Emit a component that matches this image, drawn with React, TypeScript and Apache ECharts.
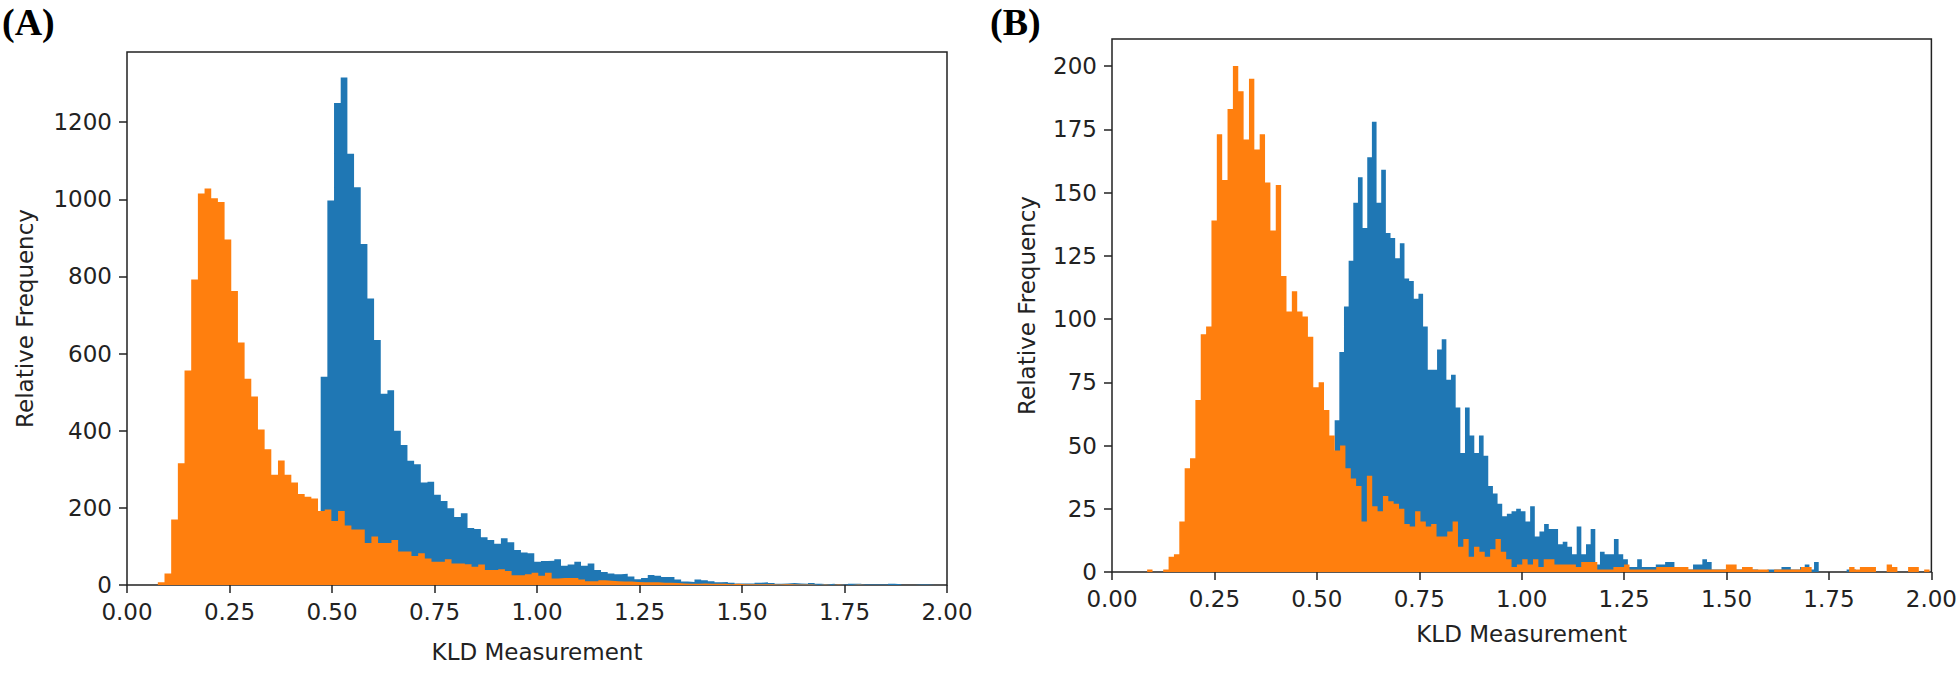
import React, { useEffect, useRef } from "react";
import * as echarts from "echarts";

// ---- axis ticks ----
const xTicks = [0, 0.25, 0.5, 0.75, 1, 1.25, 1.5, 1.75, 2];
const yTicksA = [0, 200, 400, 600, 800, 1000, 1200];
const yTicksB = [0, 25, 50, 75, 100, 125, 150, 175, 200];
const yMaxA = 1382;
const yMaxB = 210.7;

// ---- panel A histograms ----
const orangeAStart = 0.0752;
const orangeAWidth = 0.01628;
const orangeA = [
  7, 30, 170, 316, 556, 792, 1015, 1028, 1003, 993,
  896, 762, 629, 535, 489, 403, 352, 286, 323, 286,
  266, 236, 229, 224, 192, 196, 166, 192, 154, 144,
  144, 109, 126, 109, 109, 117, 87, 87, 75, 82,
  69, 60, 60, 67, 56, 56, 54, 47, 53, 39,
  39, 41, 36, 25, 25, 28, 32, 24, 32, 17,
  18, 18, 18, 14, 10, 10, 12, 11, 10, 9,
  9, 8, 7, 7, 7, 6, 6, 5, 4, 3,
  3, 4, 3, 3, 3, 2, 3, 2, 2, 2,
  2, 2, 1, 2, 2, 1, 1, 1, 0, 1,
  0, 1, 0, 0, 1, 0, 0, 0, 0, 0,
  0, 0, 0, 0, 0, 0, 0, 0,
];
const blueAStart = 0.4724;
const blueAWidth = 0.01628;
const blueA = [
  540, 997, 1250, 1316, 1118, 1031, 884, 743, 635, 496,
  505, 400, 363, 322, 313, 266, 268, 234, 218, 199,
  176, 186, 148, 145, 124, 117, 107, 121, 111, 91,
  84, 82, 60, 62, 63, 67, 50, 53, 60, 50,
  56, 39, 34, 30, 28, 29, 22, 15, 18, 26,
  24, 21, 21, 14, 9, 8, 14, 12, 10, 7,
  8, 6, 4, 4, 4, 6, 7, 5, 3, 4,
  5, 4, 3, 5, 3, 2, 3, 1, 1, 3,
  3, 1, 1, 1, 1, 3, 2, 0, 0, 1,
  1, 0, 0, 0,
];

// ---- panel B histograms ----
const orangeBStart = 0.0858;
const orangeBWidth = 0.01308;
const orangeB = [
  1, 0, 0, 1, 6, 7, 20, 41, 45, 68,
  94, 97, 139, 173, 155, 183, 200, 190, 171, 195,
  167, 173, 154, 135, 153, 117, 103, 111, 103, 101,
  93, 73, 75, 64, 54, 48, 50, 41, 37, 34,
  20, 38, 26, 24, 30, 28, 27, 25, 19, 18,
  24, 20, 18, 19, 14, 14, 16, 20, 10, 13,
  6, 10, 8, 6, 9, 13, 8, 5, 2, 3,
  5, 3, 5, 2, 5, 5, 3, 3, 3, 3,
  2, 4, 4, 4, 1, 1, 1, 2, 2, 3,
  1, 1, 1, 1, 1, 2, 2, 2, 2, 2,
  2, 1, 1, 1, 1, 1, 1, 1, 3, 3,
  1, 2, 2, 1, 1, 1, 0, 1, 1, 1,
  1, 1, 2, 2, 0, 0, 0, 0, 0, 0,
  0, 2, 1, 2, 2, 2, 0, 0, 3, 2,
  0, 0, 2, 2, 0, 1,
];
const blueBStart = 0.5435;
const blueBWidth = 0.01136;
const blueB = [
  60, 87, 105, 123, 146, 156, 136, 164, 178, 146,
  159, 134, 132, 124, 130, 116, 115, 108, 110, 97,
  80, 80, 88, 92, 76, 78, 65, 47, 65, 54,
  47, 54, 46, 34, 31, 27, 22, 23, 24, 25,
  24, 20, 26, 14, 16, 19, 17, 17, 11, 12,
  10, 7, 18, 7, 11, 17, 3, 8, 7, 7,
  13, 7, 5, 2, 2, 5, 2, 2, 2, 3,
  3, 4, 4, 2, 2, 1, 1, 3, 3, 5,
  4, 1, 1, 1, 1, 1, 1, 1, 1, 1,
  1, 0, 0, 1, 1, 1, 2, 2, 1, 1,
  2, 3, 1, 4, 0, 0, 0, 0, 0, 0,
  1, 1, 0, 0, 0, 0, 0, 0, 0, 0,
  0, 0, 0, 0, 0, 0, 0, 0,
];

const BLUE = "#1f77b4";
const ORANGE = "#ff7f0e";
const INK = "#222222";
const FONT = "DejaVu Sans";

function steps(start: number, width: number, counts: number[]) {
  const pts: number[][] = counts.map((c, i) => [start + i * width, c]);
  pts.push([start + counts.length * width, counts[counts.length - 1]]);
  return pts;
}

function xAxis(gridIndex: number, nameGap: number) {
  return {
    gridIndex,
    type: "value",
    min: 0,
    max: 2,
    name: "KLD Measurement",
    nameLocation: "middle",
    nameGap,
    nameTextStyle: { fontFamily: FONT, fontSize: 23, color: INK },
    axisLine: { show: false },
    axisTick: { show: true, length: 8, lineStyle: { color: INK, width: 1.5 }, customValues: xTicks },
    axisLabel: {
      customValues: xTicks,
      formatter: (v: number) => v.toFixed(2),
      margin: 15,
      fontFamily: FONT,
      fontSize: 23,
      color: INK,
    },
    splitLine: { show: false },
  };
}

function yAxis(gridIndex: number, max: number, ticks: number[], nameGap: number) {
  return {
    gridIndex,
    type: "value",
    min: 0,
    max,
    name: "Relative Frequency",
    nameLocation: "middle",
    nameGap,
    nameTextStyle: { fontFamily: FONT, fontSize: 23, color: INK },
    axisLine: { show: false },
    axisTick: { show: true, length: 8, lineStyle: { color: INK, width: 1.5 }, customValues: ticks },
    axisLabel: {
      customValues: ticks,
      formatter: (v: number) => String(v),
      margin: 15,
      fontFamily: FONT,
      fontSize: 23,
      color: INK,
    },
    splitLine: { show: false },
  };
}

function histSeries(axisIndex: number, data: number[][], color: string) {
  return {
    type: "line",
    xAxisIndex: axisIndex,
    yAxisIndex: axisIndex,
    step: "end",
    data,
    symbol: "none",
    showSymbol: false,
    silent: true,
    lineStyle: { width: 0, color },
    areaStyle: { color, opacity: 1 },
  };
}

export default function App() {
  const ref = useRef<HTMLDivElement>(null);
  useEffect(() => {
    if (!ref.current) return;
    const chart = echarts.init(ref.current, undefined, { renderer: "svg" });
    chart.setOption({
      animation: false,
      backgroundColor: "#ffffff",
      grid: [
        { left: 127, top: 52, width: 820, height: 533, show: true, borderColor: INK, borderWidth: 1.5, backgroundColor: "transparent" },
        { left: 1112, top: 39, width: 820, height: 533, show: true, borderColor: INK, borderWidth: 1.5, backgroundColor: "transparent" },
      ],
      xAxis: [xAxis(0, 55), xAxis(1, 50)],
      yAxis: [yAxis(0, yMaxA, yTicksA, 91), yAxis(1, yMaxB, yTicksB, 74)],
      series: [
        histSeries(0, steps(blueAStart, blueAWidth, blueA), BLUE),
        histSeries(0, steps(orangeAStart, orangeAWidth, orangeA), ORANGE),
        histSeries(1, steps(blueBStart, blueBWidth, blueB), BLUE),
        histSeries(1, steps(orangeBStart, orangeBWidth, orangeB), ORANGE),
      ],
      graphic: [
        { type: "text", left: 2, top: 3, style: { text: "(A)", font: 'bold 38px "Liberation Serif"', fill: "#000" } },
        { type: "text", left: 990, top: 3, style: { text: "(B)", font: 'bold 38px "Liberation Serif"', fill: "#000" } },
      ],
    });
    return () => chart.dispose();
  }, []);
  return <div ref={ref} style={{ position: "absolute", left: 0, top: 0, width: 1960, height: 676 }} />;
}
